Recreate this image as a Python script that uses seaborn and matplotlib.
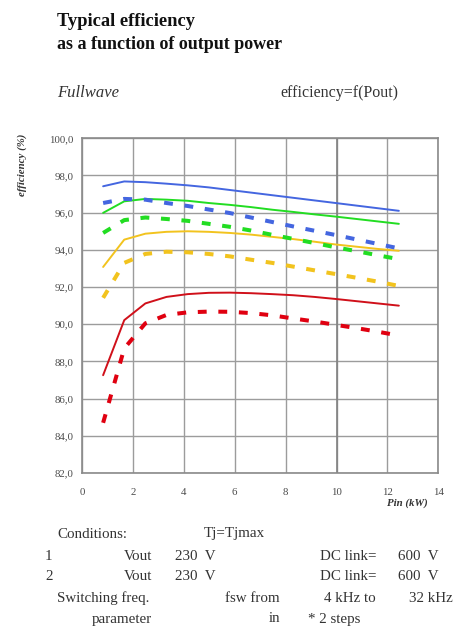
import matplotlib
matplotlib.use("Agg")
import matplotlib.pyplot as plt
import numpy as np
import pandas as pd
import seaborn as sns

# ---------------- data ----------------
pin_kw = [0.83, 1.66, 2.49, 3.32, 4.15, 4.98, 5.81, 6.64, 7.47, 8.30, 9.13, 9.96, 10.79, 11.62, 12.45]

blue_solid   = [97.42, 97.68, 97.64, 97.56, 97.47, 97.36, 97.22, 97.08, 96.94, 96.80, 96.66, 96.52, 96.38, 96.24, 96.10]
blue_dashed  = [96.52, 96.74, 96.70, 96.52, 96.36, 96.17, 95.98, 95.74, 95.50, 95.26, 95.03, 94.80, 94.56, 94.32, 94.08]
green_solid  = [95.99, 96.61, 96.74, 96.70, 96.64, 96.52, 96.42, 96.30, 96.16, 96.04, 95.91, 95.79, 95.66, 95.53, 95.40]
green_dashed = [94.91, 95.60, 95.74, 95.66, 95.56, 95.40, 95.24, 95.04, 94.81, 94.59, 94.37, 94.14, 93.93, 93.71, 93.50]
yellow_solid = [93.08, 94.55, 94.87, 94.97, 95.00, 94.97, 94.91, 94.82, 94.70, 94.58, 94.44, 94.29, 94.17, 94.05, 93.95]
yellow_dashed= [91.42, 93.30, 93.78, 93.90, 93.87, 93.78, 93.65, 93.47, 93.30, 93.10, 92.90, 92.70, 92.50, 92.29, 92.06]
red_solid    = [87.26, 90.22, 91.12, 91.47, 91.62, 91.69, 91.70, 91.67, 91.62, 91.56, 91.47, 91.36, 91.24, 91.12, 91.00]
red_dashed   = [84.70, 88.70, 90.05, 90.50, 90.64, 90.68, 90.67, 90.60, 90.48, 90.31, 90.15, 89.97, 89.79, 89.60, 89.39]

x_ticks = [0, 2, 4, 6, 8, 10, 12, 14]
y_ticks = [82, 84, 86, 88, 90, 92, 94, 96, 98, 100]

# ---------------- styling ----------------
sns.set_theme(style="white")
plt.rcParams["font.family"] = ["Liberation Serif", "DejaVu Serif"]

W, H = 458, 637
fig = plt.figure(figsize=(W / 100, H / 100), dpi=100)
fig.patch.set_facecolor("white")

def fx(px):
    return px / W

def fy(py):
    return 1 - py / H

ax = fig.add_axes([fx(82), fy(473), fx(438.3) - fx(82), fy(138.3) - fy(473)])
ax.set_facecolor("white")

BLUE = "#4466e0"
GREEN = "#22dd22"
YELLOW = "#f2c31e"
RED = "#d0101a"
RED_D = "#e00010"

series = [
    ("blue_solid", blue_solid, BLUE, "solid"),
    ("green_solid", green_solid, GREEN, "solid"),
    ("yellow_solid", yellow_solid, YELLOW, "solid"),
    ("red_solid", red_solid, RED, "solid"),
    ("blue_dashed", blue_dashed, BLUE, "dashed"),
    ("green_dashed", green_dashed, GREEN, "dashed"),
    ("yellow_dashed", yellow_dashed, YELLOW, "dashed"),
    ("red_dashed", red_dashed, RED_D, "dashed"),
]

for name, vals, col, kind in series:
    df = pd.DataFrame({"pin": pin_kw, "eff": vals})
    if kind == "solid":
        sns.lineplot(data=df, x="pin", y="eff", ax=ax, color=col, linewidth=1.4,
                     sort=False, errorbar=None, zorder=3)
    else:
        sns.lineplot(data=df, x="pin", y="eff", ax=ax, color=col, linewidth=2.9,
                     linestyle=(0, (2.2, 2.9)), dash_capstyle="butt",
                     sort=False, errorbar=None, zorder=3)

ax.set_xlim(0, 14)
ax.set_ylim(82, 100)
ax.set_xticks(x_ticks)
ax.set_yticks(y_ticks)
ax.set_xticklabels([str(v) for v in x_ticks])
ax.set_yticklabels([f"{v:.1f}".replace(".", ",") for v in y_ticks])
ax.tick_params(axis="both", length=0, labelsize=7.8, colors="#4a4a4a")
ax.tick_params(axis="x", pad=11)
ax.tick_params(axis="y", pad=6)
ax.grid(True, color="#9c9c9c", linewidth=1.0, zorder=0)
ax.axvline(10, color="#828282", linewidth=1.2, zorder=1)
for s in ax.spines.values():
    s.set_color("#8a8a8a")
    s.set_linewidth(1.2)
ax.set_xlabel("")
ax.set_ylabel("")

# axis titles
fig.text(fx(22), fy(165), "efficiency (%)", rotation=90, ha="center", va="center",
         fontsize=7.8, fontweight="bold", fontstyle="italic", color="#333333")
fig.text(fx(407), fy(503), "Pin (kW)", ha="center", va="center",
         fontsize=7.8, fontweight="bold", fontstyle="italic", color="#333333")

# headings
fig.text(fx(57), fy(26), "Typical efficiency", ha="left", va="baseline",
         fontsize=13.3, fontweight="bold", color="#111111")
fig.text(fx(57), fy(49), "as a function of output power", ha="left", va="baseline",
         fontsize=13.0, fontweight="bold", color="#111111")
fig.text(fx(57), fy(97), "Fullwave", ha="left", va="baseline",
         fontsize=12, fontstyle="italic", color="#333333")
fig.text(fx(280), fy(97), "efficiency=f(Pout)", ha="left", va="baseline",
         fontsize=11.5, color="#333333")

# conditions block
tc = "#333333"
fs = 10.8
rows = [534, 556, 577, 598, 619]
def t(x, y, s, ha="left"):
    fig.text(fx(x), fy(y), s, ha=ha, va="center", fontsize=fs, color=tc)

t(57, rows[0], "Conditions:")
t(204, rows[0], "Tj=Tjmax")
t(45, rows[1], "1")
t(152, rows[1], "Vout", "right")
t(175, rows[1], "230  V")
t(376, rows[1], "DC link=", "right")
t(398, rows[1], "600  V")
t(45, rows[2], "2")
t(152, rows[2], "Vout", "right")
t(175, rows[2], "230  V")
t(376, rows[2], "DC link=", "right")
t(398, rows[2], "600  V")
t(57, rows[3], "Switching freq.")
t(280, rows[3], "fsw from", "right")
t(376, rows[3], "4 kHz to", "right")
t(453, rows[3], "32 kHz", "right")
t(152, rows[4], "parameter", "right")
t(280, rows[4], "in", "right")
t(308, rows[4], "* 2 steps")

fig.savefig("out.png", dpi=100, facecolor="white")
